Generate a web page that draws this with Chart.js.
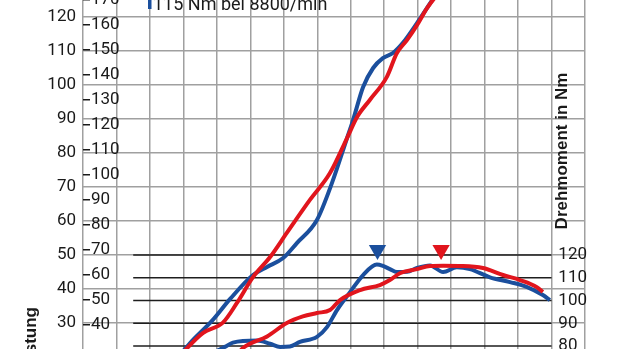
<!doctype html>
<html lang="de">
<head>
<meta charset="utf-8">
<title>Leistung und Drehmoment</title>
<script src="https://cdn.jsdelivr.net/npm/chart.js"></script>
<style>
  html, body { margin: 0; padding: 0; overflow: hidden; background: #fff; }
  #wrap { width: 620px; height: 349px; overflow: hidden; }
  canvas { display: block; margin-top: -20px; }
</style>
</head>
<body>
<div id="wrap"><canvas id="chart" width="620" height="389"></canvas></div>
<script>
  // Leistung (kW) ueber Drehzahl
  const bluePowerRpm = [2800, 3200, 3880, 4390, 5080, 5500, 5980, 6390, 6990, 7440, 7890, 8070, 8370, 8670, 8960, 9260, 9560, 9980, 10370, 10700];
  const bluePowerKw  = [19.5, 24.1, 30.9, 37.0, 44.1, 46.5, 49.1, 53.5, 60.3, 71.2, 84.4, 89.7, 99.4, 105, 107.9, 109.4, 112.4, 118.2, 124, 129];
  const redPowerRpm  = [2800, 3110, 3590, 4180, 4600, 5080, 5590, 6090, 6780, 7380, 7890, 8190, 8570, 9080, 9380, 9680, 9980, 10280, 10700];
  const redPowerKw   = [19, 22.6, 27.1, 30.1, 35.9, 43.5, 49.4, 56.5, 66.2, 74.1, 84.4, 90.6, 95.6, 102.4, 109.4, 113.2, 117.6, 122.6, 128];

  // Drehmoment (Nm) ueber Drehzahl
  const blueTorqueRpm = [3000, 3600, 4240, 4480, 5200, 5590, 5890, 6180, 6480, 6990, 7290, 7590, 7980, 8370, 8780, 8960, 9170, 9380, 9680, 9980, 10370, 10760, 11170, 11560, 12160, 12760, 13270, 13740, 13950];
  const blueTorqueNm  = [74, 75.5, 79.6, 81.5, 82.4, 81.0, 79.6, 79.8, 81.8, 84.0, 88.3, 95.8, 103.7, 111.2, 115.8, 115.2, 113.8, 112.5, 112.6, 114.3, 115.4, 112.5, 114.6, 113.8, 110.2, 108.1, 105.9, 102.4, 100.2];
  const redTorqueRpm  = [3500, 4200, 4780, 5500, 6090, 6570, 6990, 7380, 7680, 8280, 8870, 9170, 9470, 9980, 10370, 10760, 11350, 11950, 12550, 13060, 13560, 13740];
  const redTorqueNm   = [71, 69, 79.1, 84.2, 90.1, 93.0, 94.5, 95.8, 100.2, 104.6, 106.8, 109.0, 112.0, 113.8, 115.2, 115.3, 115.2, 114.3, 111.2, 109.0, 105.9, 103.7];

  // Drehmomentmaxima
  const peakRpm = [8800, 10700];
  const markerNm = 122.2;
  const legendText = '115 Nm bei 8800/min';

  const BLUE = '#1b4f9d';
  const RED = '#e1151d';
  const GRID = '#a0a0a0';
  const TEXT = '#1a1a1a';
  const tickFont = { family: 'Roboto', size: 17 };

  const pts = (xs, ys) => xs.map((v, i) => ({ x: v, y: ys[i] }));

  const curve = (data, color, axis) => ({
    type: 'line',
    data: data,
    yAxisID: axis,
    borderColor: color,
    borderWidth: 4,
    pointRadius: 0,
    cubicInterpolationMode: 'monotone',
    fill: false
  });

  // keine Extra-Raender durch Randbeschriftungen
  const noPad = s => { s.paddingTop = 0; s.paddingBottom = 0; s.paddingLeft = 0; s.paddingRight = 0; };

  const torqueLines = {
    id: 'torqueLines',
    beforeDatasetsDraw(chart) {
      const { ctx, scales: { x, nm } } = chart;
      ctx.save();
      ctx.strokeStyle = '#1e1e1e';
      ctx.lineWidth = 1.5;
      nm.ticks.forEach(t => {
        const y = nm.getPixelForValue(t.value);
        ctx.beginPath();
        ctx.moveTo(x.getPixelForValue(1500), y);
        ctx.lineTo(x.getPixelForValue(14000), y);
        ctx.stroke();
      });
      ctx.restore();
    }
  };

  const labels = {
    id: 'labels',
    afterDraw(chart) {
      const ctx = chart.ctx;
      ctx.save();
      // Legende oben (angeschnitten)
      ctx.fillStyle = BLUE;
      ctx.fillRect(148, 8, 3.5, 21);
      ctx.fillStyle = TEXT;
      ctx.font = '18px Roboto';
      ctx.textAlign = 'left';
      ctx.textBaseline = 'alphabetic';
      ctx.fillText(legendText, 153, 30);

      ctx.font = 'bold 17px "Liberation Sans"';
      // rechte Achsenbeschriftung
      ctx.save();
      ctx.translate(567, 171);
      ctx.rotate(-Math.PI / 2);
      ctx.textAlign = 'center';
      ctx.fillText('Drehmoment in Nm', 0, 0);
      ctx.restore();
      // linke Achsenbeschriftung
      ctx.save();
      ctx.translate(36, 327);
      ctx.rotate(-Math.PI / 2);
      ctx.textAlign = 'right';
      ctx.fillText('Leistung', 0, 0);
      ctx.restore();
      ctx.restore();
    }
  };

  new Chart(document.getElementById('chart'), {
    data: {
      datasets: [
        curve(pts(redTorqueRpm, redTorqueNm), RED, 'nm'),
        curve(pts(redPowerRpm, redPowerKw), RED, 'kw'),
        curve(pts(blueTorqueRpm, blueTorqueNm), BLUE, 'nm'),
        curve(pts(bluePowerRpm, bluePowerKw), BLUE, 'kw'),
        {
          type: 'scatter',
          data: peakRpm.map(r => ({ x: r, y: markerNm })),
          yAxisID: 'nm',
          pointStyle: 'triangle',
          rotation: 180,
          radius: 10,
          borderWidth: 0,
          backgroundColor: [BLUE, RED]
        }
      ]
    },
    options: {
      responsive: false,
      animation: false,
      layout: { padding: 0, autoPadding: false },
      plugins: { legend: { display: false }, tooltip: { enabled: false } },
      scales: {
        x: {
          type: 'linear', min: 0, max: 15000,
          ticks: { stepSize: 1000, display: false },
          grid: { color: GRID, lineWidth: 1.5, drawTicks: false },
          border: { display: false },
          afterFit: s => { s.height = 0; noPad(s); }
        },
        kw: {
          type: 'linear', position: 'left', weight: 10,
          min: 16.47, max: 130.88,
          ticks: { stepSize: 10, padding: 7, color: TEXT, font: tickFont, autoSkip: false },
          afterBuildTicks: s => { s.ticks = s.ticks.filter(t => t.value % 10 === 0 && t.value <= 120); },
          grid: { color: GRID, lineWidth: 1.5, drawTicks: false },
          border: { display: false },
          afterFit: s => { s.width = 83; noPad(s); }
        },
        ps: {
          type: 'linear', position: 'left', weight: 0,
          min: 22.39, max: 177.95,
          ticks: { stepSize: 10, mirror: true, padding: 8, color: TEXT, font: tickFont, autoSkip: false },
          afterBuildTicks: s => { s.ticks = s.ticks.filter(t => t.value % 10 === 0); },
          grid: { drawOnChartArea: false, drawTicks: true, tickLength: -7, tickColor: TEXT, lineWidth: 1.5 },
          border: { display: false },
          afterFit: s => { s.width = 0; noPad(s); }
        },
        nm: {
          type: 'linear', position: 'right',
          min: 69.89, max: 240.88,
          ticks: { stepSize: 10, mirror: true, crossAlign: 'far', padding: 2, color: TEXT, font: tickFont, autoSkip: false },
          afterBuildTicks: s => { s.ticks = s.ticks.filter(t => t.value % 10 === 0 && t.value >= 80 && t.value <= 120); },
          grid: { display: false },
          border: { display: false },
          afterFit: s => { s.width = 35; noPad(s); }
        }
      }
    },
    plugins: [torqueLines, labels]
  });
</script>
</body>
</html>
